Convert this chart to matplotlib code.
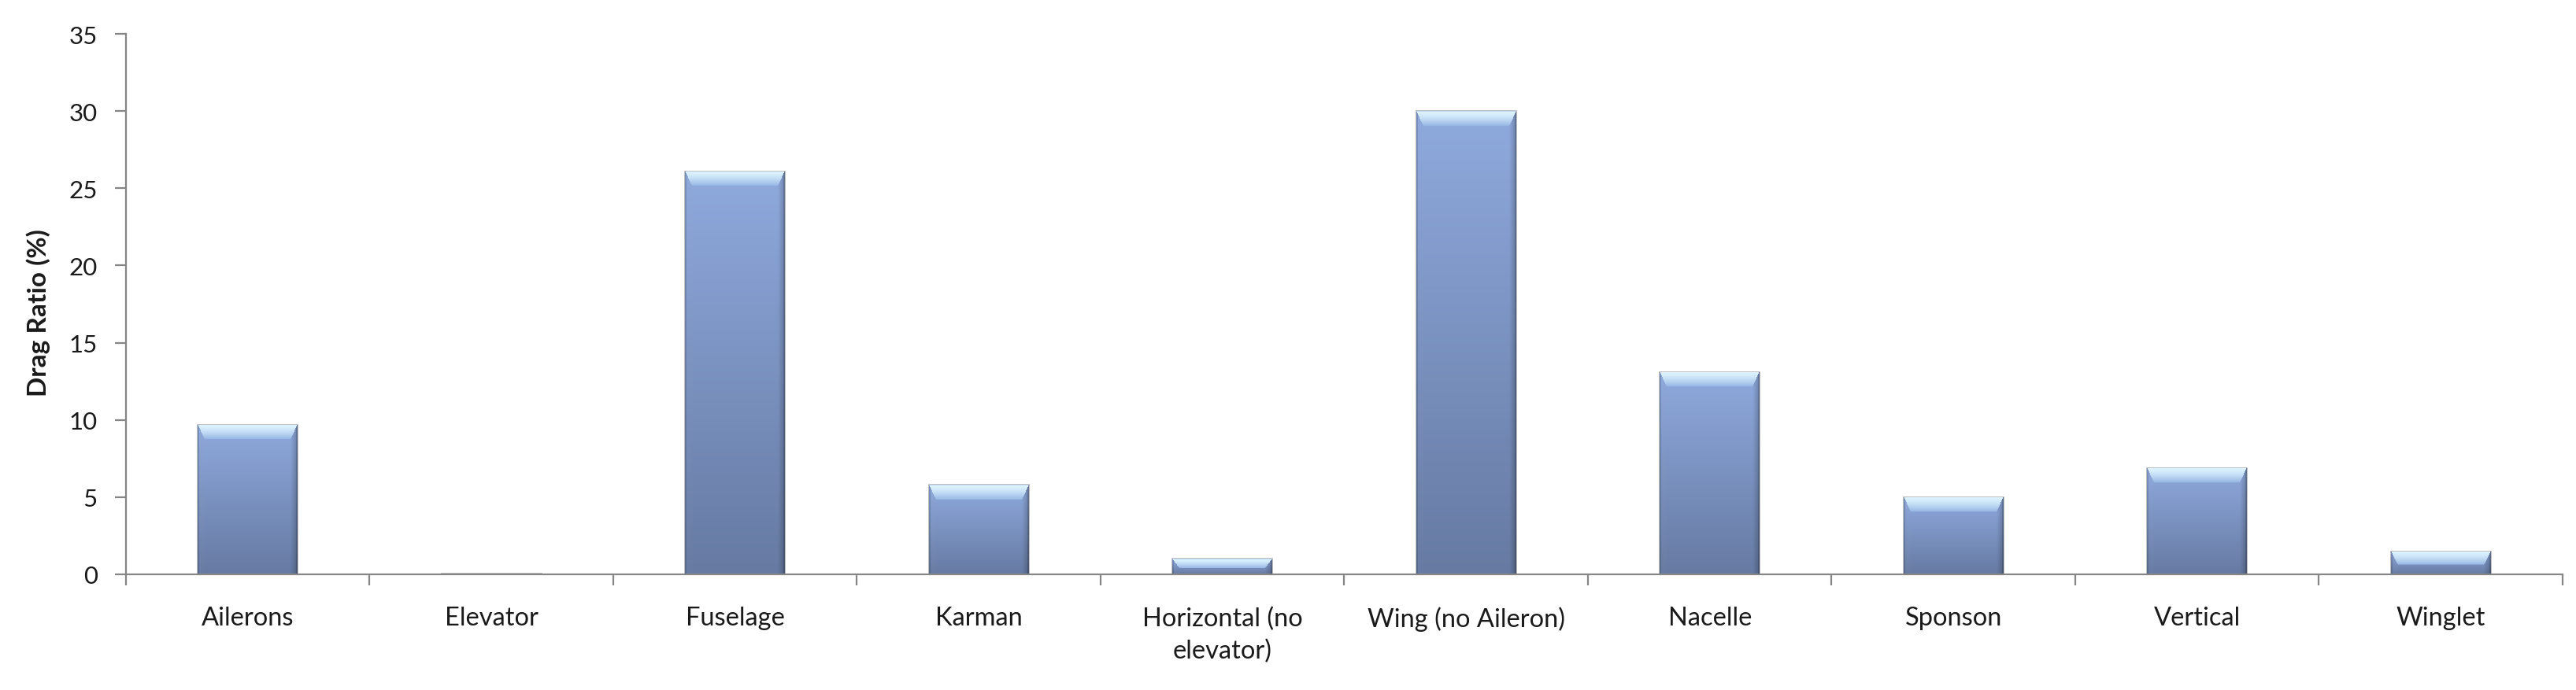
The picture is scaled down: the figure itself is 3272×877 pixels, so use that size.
"""
Drag ratio per component - Excel-style bevelled bar chart.
"""
import matplotlib

matplotlib.use("Agg")
import matplotlib.pyplot as plt
import numpy as np

categories = [
    "Ailerons", "Elevator", "Fuselage", "Karman", "Horizontal (no\nelevator)",
    "Wing (no Aileron)", "Nacelle", "Sponson", "Vertical", "Winglet",
]
drag_ratio = [9.7, 0.05, 26.1, 5.8, 1.0, 30.0, 13.1, 5.0, 6.9, 1.5]
y_ticks = [0, 5, 10, 15, 20, 25, 30, 35]

W, H, DPI = 3273, 878, 100
AXIS_GREY = "#868686"
TEXT = "#1a1a1a"

plt.rcParams["font.family"] = ["Lato", "DejaVu Sans"]


def bevel_image(px_w, px_h):
    """RGB image for one bar: vertical gradient, side shading, light top bevel."""
    px_w, px_h = max(int(round(px_w)), 2), max(int(round(px_h)), 2)
    yy = np.arange(px_h)[:, None] + 0.5
    xx = np.arange(px_w)[None, :] + 0.5
    v = yy / px_h

    top = np.array([143, 170, 222]) / 255
    bot = np.array([102, 122, 162]) / 255
    img = top + (bot - top) * v[..., None]
    img = np.broadcast_to(img, (px_h, px_w, 3)).copy()

    side = min(9.0, px_w * 0.1)
    bev = min(19.0, px_h * 0.6)
    dl = np.broadcast_to(xx, (px_h, px_w))
    dr = px_w - dl
    yb = np.broadcast_to(yy, (px_h, px_w))

    # left / right bevels
    left = (dl < side) & (yb > bev * dl / side)
    right = (dr < side) & (yb > bev * dr / side)
    img[left] = img[left] * 0.97 + 0.02
    rshade = np.clip(1 - dr / side, 0, 1)[..., None] * 0.22
    img[right] = (img * (1 - rshade))[right]
    edge = (dl < 2) | (dr < 2)
    img[edge] *= 0.85

    # top bevel (trapezoid), light cyan fading to blue
    topb = (yb < bev) & (yb <= bev * np.minimum(dl, dr) / side)
    t = (yb / max(bev, 1))[..., None]
    hi = np.array([222, 244, 255]) / 255
    lo = np.array([150, 182, 228]) / 255
    tb = hi + (lo - hi) * np.clip(t, 0, 1) ** 1.5
    img[topb] = tb[topb]
    img[yb < 1.5] = np.array([190, 215, 245]) / 255
    return img


def main() -> None:
    fig = plt.figure(figsize=(W / DPI, H / DPI), dpi=DPI)
    ax = fig.add_axes([160 / W, 1 - 731 / H, (3255 - 160) / W, (731 - 44) / H])

    x = np.arange(len(categories))
    ax.set_xlim(-0.5, len(categories) - 0.5)
    ax.set_ylim(0, 35)

    bars = ax.bar(x, drag_ratio, width=0.41, color="#7f98c8",
                  edgecolor="#b4b4b4", linewidth=1.2, zorder=2)

    fig.canvas.draw()
    for patch in bars.patches:
        x0, w, h = patch.get_x(), patch.get_width(), patch.get_height()
        p0 = ax.transData.transform((x0, 0))
        p1 = ax.transData.transform((x0 + w, h))
        img = bevel_image(p1[0] - p0[0], abs(p1[1] - p0[1]))
        im = ax.imshow(img, extent=(x0, x0 + w, 0, h), origin="upper",
                       aspect="auto", interpolation="bilinear", zorder=3)
        im.set_clip_path(patch)

    ax.set_xlim(-0.5, len(categories) - 0.5)
    ax.set_ylim(0, 35)

    for side in ("top", "right"):
        ax.spines[side].set_visible(False)
    for side in ("left", "bottom"):
        ax.spines[side].set_color(AXIS_GREY)
        ax.spines[side].set_linewidth(1.6)
        ax.spines[side].set_zorder(4)

    ax.set_yticks(y_ticks)
    ax.tick_params(axis="y", length=10, width=1.6, color=AXIS_GREY,
                   labelsize=22.5, labelcolor=TEXT, pad=16)

    ax.set_xticks(x)
    ax.set_xticklabels(categories, linespacing=1.45)
    ax.set_xticks(np.arange(-0.5, len(categories)), minor=True)
    ax.tick_params(axis="x", which="major", length=0, labelsize=23.5,
                   labelcolor=TEXT, pad=29)
    ax.tick_params(axis="x", which="minor", length=10, width=1.6,
                   color=AXIS_GREY)
    for lbl in ax.get_xticklabels():
        lbl.set_verticalalignment("top")

    ax.set_ylabel("Drag Ratio (%)", fontsize=24, fontweight="bold", color=TEXT)
    ax.yaxis.set_label_coords(-0.031, 0.486)

    fig.savefig("out.png", dpi=DPI, facecolor="white")
    plt.close(fig)


if __name__ == "__main__":
    main()
